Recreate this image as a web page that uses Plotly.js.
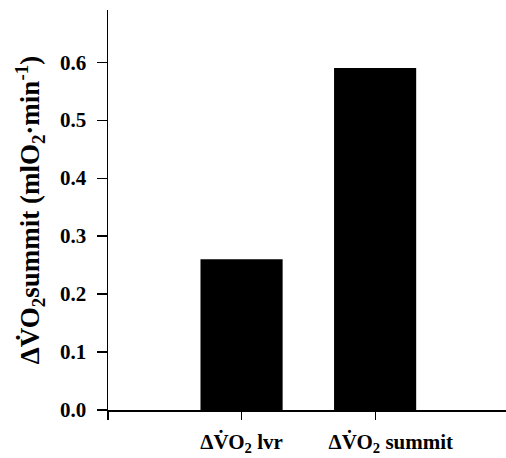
<!DOCTYPE html>
<html>
<head>
<meta charset="utf-8">
<script src="https://cdn.plot.ly/plotly-3.0.1.min.js"></script>
<style>html,body{margin:0;padding:0;background:#fff;}#chart{width:506px;height:458px;}</style>
</head>
<body>
<div id="chart"></div>
<script>
var categories = ['ΔV̇O<sub>2</sub> lvr', '\u00a0\u00a0\u00a0\u00a0\u00a0\u00a0ΔV̇O<sub>2</sub> summit'];
var values = [0.26, 0.59];
var yTicks = [0.0, 0.1, 0.2, 0.3, 0.4, 0.5, 0.6];
var yTickLabels = ['0.0', '0.1', '0.2', '0.3', '0.4', '0.5', '0.6'];

var positions = categories.map(function(c, i){ return i; });
var font = 'Liberation Serif, Times New Roman, serif';

var trace = {
  type: 'bar',
  x: positions,
  y: values,
  width: 0.615,
  marker: {color: '#000', line: {width: 0}},
  hoverinfo: 'skip'
};

var layout = {
  width: 506, height: 458,
  margin: {l: 108, r: 0, t: 10, b: 48},
  paper_bgcolor: '#fff', plot_bgcolor: '#fff',
  showlegend: false,
  font: {family: font, color: '#000'},
  xaxis: {
    range: [-1, 1.98],
    tickvals: [-1].concat(positions),
    ticktext: [''].concat(categories.map(function(c){ return '<b>' + c + '</b>'; })),
    ticks: 'outside', ticklen: 8, tickwidth: 1.2, tickcolor: '#000',
    ticklabelstandoff: 4,
    showline: true, linecolor: '#000', linewidth: 1.5,
    showgrid: false, zeroline: false,
    tickfont: {family: font, size: 21, color: '#000'}
  },
  yaxis: {
    range: [0, 0.69],
    tickvals: yTicks,
    ticktext: yTickLabels.map(function(t){ return '<b>' + t + '</b>'; }),
    ticks: 'outside', ticklen: 10, tickwidth: 1.2, tickcolor: '#000',
    ticklabelstandoff: 6,
    showline: true, linecolor: '#000', linewidth: 1.5,
    showgrid: false, zeroline: false,
    tickfont: {family: font, size: 21, color: '#000'},
    title: {text: '<b>ΔV̇O<sub>2</sub>summit (mlO<sub>2</sub>·min<sup>-1</sup>)</b>', font: {family: font, size: 27, color: '#000'}, standoff: 12}
  }
};

Plotly.newPlot('chart', [trace], layout, {staticPlot: true, displayModeBar: false});
</script>
</body>
</html>
